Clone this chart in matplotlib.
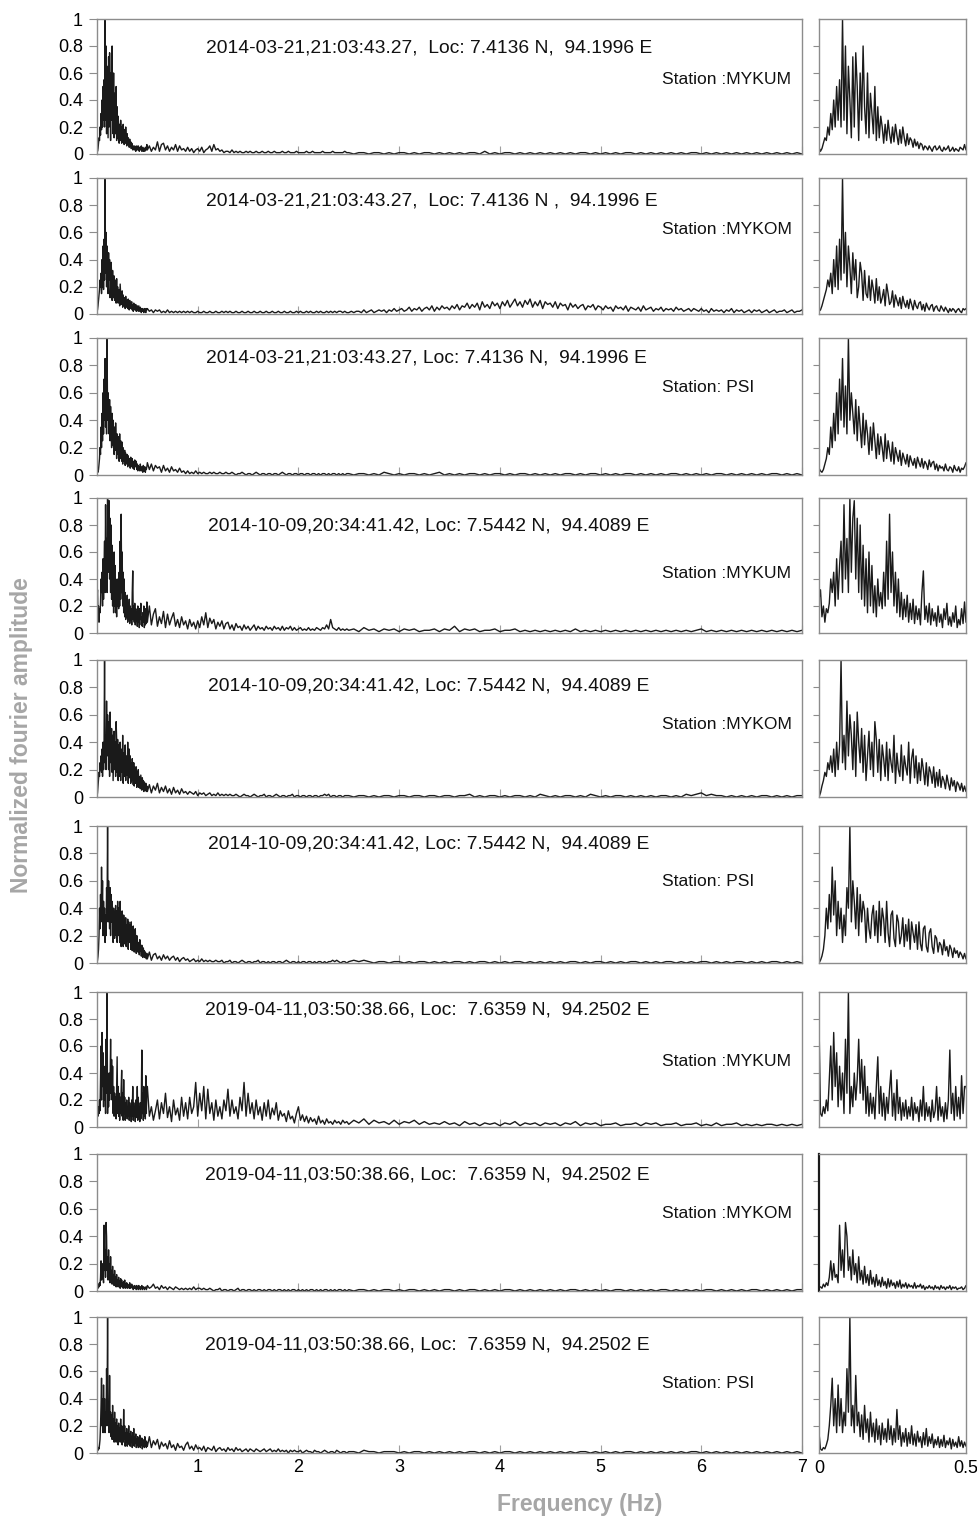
import numpy as np
import matplotlib.pyplot as plt

plt.rcParams['font.family'] = ['Liberation Sans', 'DejaVu Sans']

# normalized fourier amplitude in percent
# *_low : 0 - 0.495 Hz, one value every 0.005 Hz
# *_mid : 0.5 - 2.48 Hz, one value every 0.02 Hz
# *_tail: 2.5 - 7.0 Hz, evenly spaced

# event 2014-03-21
e1_mykum_low = [5, 2, 4, 8, 12, 10, 20, 14, 30, 18, 40, 20, 50, 25, 55, 20, 100, 25, 80, 15,
                65, 40, 12, 72, 20, 75, 50, 10, 60, 25, 80, 35, 15, 60, 12, 45, 30, 15, 50, 10,
                35, 12, 28, 20, 8, 22, 10, 25, 15, 8, 20, 9, 22, 14, 7, 18, 8, 20, 12, 6,
                15, 7, 12, 10, 5, 11, 6, 9, 4, 8, 7, 3, 6, 5, 3, 6, 4, 2, 5, 6,
                3, 4, 6, 3, 2, 5, 3, 4, 6, 2, 3, 5, 2, 4, 3, 2, 5, 4, 3, 7]
e1_mykum_mid = [3, 6, 2, 5, 3, 9, 2, 7, 8, 3, 6, 2, 5, 3, 7, 2, 6, 3, 4, 2,
                5, 2, 4, 1, 3, 4, 2, 5, 1, 3, 4, 6, 2, 7, 3, 4, 2, 3, 1, 2,
                2, 1, 3, 1, 2, 1, 2, 1, 1, 2, 1, 2, 1, 1, 2, 1, 1, 2, 1, 1,
                2, 1, 1, 2, 1, 1, 1, 2, 1, 1, 2, 1, 1, 1, 2, 1, 1, 1, 1, 2,
                1, 1, 2, 1, 1, 1, 1, 2, 1, 1, 1, 1, 2, 1, 1, 1, 1, 1, 2, 1]
e1_mykum_tail = [1, 0, 1, 1, 0, 1, 1, 0, 1, 0, 1, 1, 0, 1, 0, 1, 1, 0, 1, 0,
                 1, 0, 1, 0, 1, 1, 0, 2, 0, 1, 0, 1, 1, 0, 1, 0, 1, 0, 1, 0,
                 1, 0, 1, 0, 1, 0, 1, 1, 0, 1, 0, 1, 0, 1, 0, 1, 1, 0, 1, 0,
                 1, 0, 1, 0, 1, 0, 1, 0, 1, 1, 0, 1, 0, 1, 0, 1, 0, 1, 0, 1,
                 0, 1, 0, 1, 0, 1, 0, 1, 0, 1, 0]

e1_mykom_low = [2, 3, 6, 10, 14, 18, 25, 20, 30, 15, 40, 20, 50, 18, 55, 25, 100, 30, 60, 20,
                50, 35, 15, 45, 25, 40, 12, 20, 38, 30, 10, 32, 15, 12, 28, 10, 25, 18, 8, 26,
                10, 20, 8, 12, 18, 6, 22, 15, 7, 9, 17, 5, 14, 10, 6, 12, 4, 13, 8, 5,
                10, 4, 11, 7, 3, 10, 6, 4, 8, 9, 3, 7, 2, 8, 5, 3, 6, 7, 2, 5,
                6, 3, 2, 6, 4, 2, 5, 3, 1, 4, 2, 4, 3, 1, 3, 4, 2, 1, 4, 3]
e1_mykom_mid = [4, 2, 3, 1, 3, 2, 3, 1, 2, 1, 3, 1, 2, 1, 2, 1, 2, 1, 2, 1,
                2, 1, 2, 1, 1, 2, 1, 1, 2, 1, 1, 2, 1, 1, 2, 1, 1, 2, 1, 2,
                1, 2, 1, 1, 2, 1, 1, 2, 1, 1, 2, 1, 1, 2, 1, 1, 2, 1, 1, 2,
                1, 1, 2, 1, 1, 2, 1, 1, 2, 1, 1, 2, 1, 1, 2, 1, 2, 1, 1, 2,
                1, 2, 1, 1, 2, 1, 2, 1, 1, 2, 1, 2, 1, 2, 1, 2, 2, 1, 2, 1]
e1_mykom_tail = [1, 2, 1, 2, 2, 1, 3, 1, 2, 3, 1, 2, 3, 2, 3, 1, 3, 2, 4, 2,
                 3, 4, 2, 3, 5, 2, 4, 3, 5, 2, 4, 5, 3, 6, 2, 5, 3, 6, 4, 5,
                 3, 6, 4, 7, 3, 6, 5, 8, 4, 7, 5, 8, 3, 9, 5, 7, 4, 9, 6, 8,
                 4, 9, 6, 10, 5, 8, 11, 6, 9, 5, 10, 7, 11, 5, 9, 6, 10, 4, 9, 7,
                 8, 5, 9, 4, 8, 6, 7, 3, 8, 5, 7, 4, 6, 7, 3, 6, 5, 7, 3, 6,
                 5, 3, 6, 4, 5, 2, 6, 4, 5, 3, 6, 2, 5, 4, 3, 5, 2, 6, 3, 4,
                 5, 2, 4, 3, 5, 2, 4, 3, 4, 2, 5, 3, 4, 2, 3, 4, 2, 4, 3, 2,
                 4, 2, 3, 1, 4, 2, 3, 2, 3, 1, 3, 2, 4, 1, 3, 2, 3, 1, 2, 3,
                 1, 3, 2, 3, 1, 2, 3, 1, 2, 3, 1, 2, 2, 3, 1, 2, 3, 1, 2, 2, 3]

e1_psi_low = [5, 3, 2, 4, 8, 12, 20, 15, 35, 20, 45, 25, 60, 30, 70, 40, 85, 35, 65, 30,
              100, 40, 60, 45, 30, 55, 25, 50, 35, 20, 45, 22, 40, 30, 15, 35, 18, 38, 25, 12,
              30, 15, 28, 20, 10, 30, 12, 25, 18, 10, 24, 8, 20, 15, 10, 18, 7, 16, 12, 8,
              15, 6, 14, 10, 7, 12, 5, 13, 9, 6, 12, 5, 10, 8, 4, 11, 6, 9, 10, 4,
              8, 3, 7, 5, 6, 3, 8, 4, 3, 6, 5, 2, 7, 4, 3, 6, 2, 5, 4, 6]
e1_psi_mid = [9, 4, 8, 3, 7, 5, 6, 2, 7, 3, 5, 2, 6, 3, 4, 2, 5, 2, 3, 1,
              3, 1, 2, 1, 3, 1, 2, 1, 2, 1, 1, 2, 1, 2, 1, 1, 2, 1, 1, 2,
              1, 1, 2, 1, 0, 1, 1, 2, 1, 0, 1, 1, 0, 1, 2, 1, 0, 1, 1, 0,
              1, 1, 0, 1, 1, 0, 1, 2, 1, 0, 1, 1, 0, 1, 1, 0, 1, 1, 0, 1,
              1, 0, 1, 1, 0, 1, 0, 1, 1, 0, 1, 0, 1, 1, 0, 1, 0, 1, 0, 1]
e1_psi_tail = [1, 0, 1, 1, 0, 1, 0, 2, 1, 0, 1, 0, 1, 1, 0, 1, 0, 1, 2, 0,
               1, 0, 1, 0, 1, 1, 0, 1, 0, 1, 1, 0, 1, 0, 1, 1, 0, 1, 0, 1,
               0, 1, 0, 1, 1, 0, 1, 0, 1, 1, 0, 1, 0, 1, 0, 1, 1, 0, 1, 0,
               1, 0, 1, 0, 1, 1, 0, 1, 0, 1, 0, 1, 0, 1, 1, 0, 1, 0, 1, 0,
               1, 0, 1, 0, 1, 1, 0, 1, 0, 1, 0]

# event 2014-10-09
e2_mykum_low = [25, 32, 12, 20, 8, 18, 15, 22, 40, 30, 45, 20, 55, 25, 50, 68, 30, 95, 40, 70,
                30, 100, 45, 85, 98, 40, 85, 30, 80, 25, 65, 20, 55, 15, 60, 20, 50, 15, 35, 12,
                40, 20, 30, 18, 45, 20, 68, 25, 88, 30, 60, 20, 45, 15, 40, 12, 30, 10, 25, 12,
                28, 8, 22, 10, 25, 7, 20, 10, 18, 6, 30, 46, 10, 20, 8, 22, 6, 18, 9, 15,
                5, 20, 8, 14, 4, 18, 10, 22, 6, 12, 5, 15, 8, 20, 4, 10, 6, 18, 7, 23]
e2_mykum_mid = [8, 20, 6, 14, 18, 5, 12, 7, 16, 4, 14, 6, 11, 15, 5, 10, 4, 12, 6, 9,
                3, 10, 5, 8, 3, 9, 4, 12, 6, 15, 4, 11, 7, 10, 3, 8, 5, 9, 3, 7,
                8, 3, 6, 2, 7, 4, 5, 2, 6, 3, 5, 2, 4, 6, 2, 5, 3, 4, 2, 5,
                3, 4, 2, 5, 3, 4, 2, 5, 2, 4, 3, 5, 2, 4, 2, 3, 4, 2, 3, 2,
                4, 2, 3, 2, 4, 3, 2, 4, 3, 6, 3, 10, 4, 3, 2, 4, 2, 3, 2, 3]
e2_mykum_tail = [2, 3, 1, 4, 2, 3, 1, 3, 2, 3, 1, 3, 2, 3, 1, 2, 2, 3, 1, 3,
                 2, 5, 1, 3, 2, 3, 1, 2, 2, 3, 1, 2, 2, 3, 1, 2, 1, 2, 1, 2,
                 1, 2, 1, 2, 1, 3, 1, 2, 1, 2, 1, 2, 1, 2, 1, 2, 1, 2, 1, 2,
                 1, 2, 1, 2, 1, 2, 1, 2, 1, 2, 3, 1, 2, 1, 2, 1, 2, 1, 2, 1,
                 2, 1, 2, 1, 2, 1, 2, 1, 2, 1, 2]

e2_mykom_low = [0, 3, 8, 12, 18, 15, 25, 20, 30, 18, 35, 15, 40, 20, 38, 100, 25, 45, 20, 70,
                30, 60, 45, 20, 55, 15, 62, 40, 25, 50, 18, 45, 12, 30, 48, 20, 40, 15, 55, 42,
                18, 42, 12, 38, 28, 15, 40, 12, 35, 25, 18, 45, 10, 32, 20, 15, 38, 12, 30, 22,
                16, 40, 10, 28, 35, 14, 30, 10, 25, 12, 28, 20, 9, 25, 8, 22, 18, 10, 22, 7,
                18, 8, 20, 7, 15, 12, 6, 16, 10, 5, 14, 8, 12, 4, 11, 9, 5, 10, 4, 8]
e2_mykom_mid = [4, 9, 3, 8, 5, 10, 3, 7, 4, 8, 3, 6, 2, 7, 3, 5, 2, 6, 3, 4,
                2, 4, 3, 2, 4, 1, 3, 2, 3, 1, 2, 3, 1, 2, 1, 3, 1, 2, 1, 2,
                1, 2, 1, 1, 2, 1, 0, 1, 2, 1, 1, 0, 1, 2, 1, 0, 1, 1, 2, 0,
                1, 1, 0, 1, 2, 1, 0, 1, 1, 0, 1, 1, 2, 0, 1, 1, 0, 1, 1, 0,
                1, 1, 0, 1, 1, 0, 1, 1, 2, 1, 2, 0, 1, 1, 0, 1, 1, 0, 1, 1]
e2_mykom_tail = [1, 0, 1, 1, 0, 1, 0, 1, 1, 0, 1, 1, 0, 1, 1, 0, 1, 1, 0, 1,
                 1, 0, 1, 1, 2, 0, 1, 0, 1, 1, 0, 1, 0, 1, 1, 0, 1, 0, 2, 1,
                 0, 1, 0, 1, 1, 0, 1, 0, 2, 1, 0, 1, 0, 1, 1, 0, 1, 0, 1, 0,
                 1, 0, 1, 1, 0, 1, 0, 2, 1, 2, 3, 1, 2, 1, 1, 0, 1, 0, 1, 0,
                 1, 0, 1, 1, 0, 1, 0, 1, 0, 1, 1]

e2_psi_low = [0, 2, 5, 10, 20, 40, 25, 50, 30, 70, 35, 60, 20, 45, 25, 40, 15, 35, 20, 55,
              40, 100, 30, 60, 45, 25, 55, 20, 50, 30, 45, 38, 15, 40, 25, 18, 35, 42, 20, 38,
              15, 45, 20, 40, 32, 15, 45, 22, 12, 35, 38, 18, 12, 35, 30, 14, 20, 33, 12, 28,
              16, 32, 10, 30, 22, 15, 28, 10, 30, 14, 9, 25, 27, 12, 8, 22, 25, 12, 7, 20,
              18, 8, 15, 13, 6, 17, 9, 12, 5, 13, 10, 4, 11, 7, 9, 4, 8, 6, 3, 7]
e2_psi_mid = [3, 8, 2, 6, 7, 3, 5, 2, 6, 3, 5, 2, 4, 5, 2, 4, 1, 3, 4, 2,
              3, 1, 2, 3, 1, 2, 1, 3, 1, 2, 1, 2, 1, 1, 2, 1, 1, 2, 0, 1,
              1, 2, 0, 1, 1, 0, 1, 2, 1, 0, 1, 1, 0, 1, 1, 2, 0, 1, 1, 0,
              1, 0, 1, 1, 0, 1, 1, 0, 1, 2, 1, 0, 1, 1, 0, 1, 0, 1, 1, 0,
              1, 1, 0, 1, 0, 1, 1, 0, 1, 0, 1, 1, 2, 1, 2, 1, 0, 1, 1, 0]
e2_psi_tail = [1, 2, 1, 2, 1, 0, 1, 1, 0, 1, 1, 0, 1, 0, 1, 1, 0, 1, 0, 1,
               0, 1, 1, 0, 1, 0, 1, 1, 0, 1, 0, 1, 0, 1, 1, 0, 1, 0, 1, 0,
               1, 0, 1, 0, 1, 1, 0, 1, 0, 1, 1, 0, 1, 0, 1, 0, 1, 1, 0, 1,
               0, 1, 0, 1, 1, 0, 1, 0, 1, 0, 1, 1, 0, 1, 0, 1, 0, 1, 1, 0,
               1, 0, 1, 0, 1, 1, 0, 1, 0, 1, 0]

# event 2019-04-11
e3_mykum_low = [78, 10, 8, 15, 10, 20, 12, 35, 60, 20, 70, 30, 55, 15, 45, 20, 40, 10, 65, 25,
                100, 10, 30, 15, 40, 20, 35, 65, 25, 50, 20, 45, 10, 30, 8, 25, 10, 22, 6, 30,
                52, 10, 30, 8, 25, 5, 22, 10, 28, 42, 8, 25, 5, 35, 10, 22, 5, 18, 8, 20,
                6, 15, 8, 22, 5, 18, 10, 15, 4, 20, 8, 30, 5, 18, 8, 15, 4, 20, 7, 12,
                30, 5, 22, 8, 15, 4, 18, 6, 20, 57, 10, 25, 5, 30, 8, 22, 6, 38, 10, 30]
e3_mykum_mid = [30, 8, 15, 5, 12, 20, 6, 18, 10, 25, 7, 15, 4, 20, 9, 14, 5, 22, 8, 18,
                6, 22, 10, 15, 33, 8, 25, 12, 30, 6, 28, 10, 18, 5, 20, 8, 15, 6, 20, 12,
                28, 8, 20, 10, 15, 6, 22, 12, 33, 8, 25, 10, 18, 6, 20, 9, 15, 5, 18, 8,
                20, 6, 14, 9, 18, 5, 12, 8, 10, 4, 12, 6, 8, 3, 10, 15, 5, 9, 4, 8,
                3, 7, 4, 6, 2, 8, 3, 5, 2, 6, 3, 4, 2, 5, 3, 4, 2, 5, 3, 4]
e3_mykum_tail = [2, 5, 3, 6, 2, 5, 3, 4, 2, 5, 2, 4, 3, 5, 2, 4, 2, 3, 2, 4,
                 2, 3, 1, 4, 2, 3, 1, 3, 2, 3, 1, 3, 2, 4, 1, 3, 2, 3, 1, 3,
                 2, 3, 1, 3, 2, 4, 1, 3, 2, 3, 1, 2, 2, 3, 1, 2, 2, 3, 1, 3,
                 2, 3, 1, 2, 2, 3, 1, 2, 2, 3, 1, 2, 1, 3, 1, 2, 2, 3, 1, 2,
                 1, 2, 1, 2, 2, 1, 2, 1, 2, 1, 2]

e3_mykom_low = [3, 3, 2, 5, 3, 6, 4, 10, 22, 8, 20, 10, 12, 6, 48, 15, 30, 10, 50, 40,
                15, 25, 8, 30, 12, 20, 6, 25, 8, 15, 5, 18, 6, 12, 4, 15, 5, 10, 3, 12,
                4, 8, 3, 10, 4, 7, 2, 9, 3, 8, 4, 6, 2, 7, 3, 8, 2, 5, 3, 6,
                2, 5, 3, 4, 2, 6, 2, 4, 3, 5, 2, 4, 1, 3, 2, 4, 2, 3, 1, 4,
                2, 3, 1, 4, 2, 3, 1, 3, 2, 4, 1, 3, 2, 3, 1, 2, 2, 3, 1, 2]
e3_mykom_mid = [4, 2, 3, 5, 2, 3, 1, 4, 2, 3, 1, 3, 2, 1, 3, 2, 1, 2, 1, 2,
                1, 2, 1, 3, 1, 2, 2, 1, 2, 1, 1, 2, 1, 0, 1, 1, 2, 0, 1, 1,
                0, 1, 1, 0, 1, 2, 0, 1, 1, 0, 1, 1, 0, 1, 0, 1, 1, 0, 1, 0,
                1, 1, 0, 1, 0, 1, 1, 0, 1, 0, 1, 0, 1, 1, 0, 1, 0, 1, 0, 1,
                0, 1, 1, 0, 1, 0, 1, 0, 1, 1, 0, 1, 0, 1, 0, 1, 1, 0, 1, 0]
e3_mykom_tail = [1, 0, 1, 1, 0, 1, 0, 1, 1, 0, 1, 0, 1, 1, 0, 1, 0, 1, 0, 1,
                 1, 0, 1, 0, 1, 1, 0, 1, 0, 1, 0, 1, 1, 0, 1, 0, 1, 0, 1, 0,
                 1, 0, 1, 0, 1, 1, 0, 1, 0, 1, 0, 1, 0, 1, 1, 0, 1, 0, 1, 0,
                 1, 0, 1, 1, 0, 1, 0, 1, 0, 1, 0, 1, 1, 0, 1, 0, 1, 0, 1, 0,
                 1, 1, 0, 1, 0, 1, 0, 1, 0, 1, 1]

e3_psi_low = [15, 3, 2, 4, 3, 6, 10, 20, 35, 55, 20, 40, 15, 50, 20, 40, 15, 30, 20, 62,
              30, 100, 20, 35, 15, 57, 20, 30, 12, 28, 10, 35, 15, 25, 8, 30, 12, 22, 8, 25,
              10, 20, 6, 22, 10, 18, 8, 25, 10, 20, 6, 18, 8, 32, 10, 20, 5, 15, 8, 18,
              5, 15, 7, 20, 6, 14, 5, 16, 8, 12, 4, 15, 6, 18, 5, 12, 7, 14, 4, 10,
              6, 12, 4, 10, 5, 13, 4, 9, 6, 11, 3, 10, 5, 8, 4, 12, 5, 9, 4, 8]
e3_psi_mid = [5, 12, 4, 9, 6, 10, 3, 8, 5, 7, 3, 9, 4, 6, 2, 7, 4, 5, 2, 6,
              8, 3, 5, 2, 6, 3, 4, 2, 5, 1, 4, 3, 2, 5, 1, 3, 4, 2, 3, 1,
              4, 2, 3, 1, 4, 2, 3, 1, 2, 3, 1, 3, 2, 1, 3, 2, 1, 2, 3, 1,
              2, 3, 1, 2, 1, 3, 1, 2, 1, 2, 0, 2, 1, 2, 1, 1, 2, 0, 1, 2,
              1, 1, 0, 2, 1, 1, 0, 1, 2, 1, 0, 1, 1, 0, 2, 1, 0, 1, 1, 0]
e3_psi_tail = [1, 1, 0, 2, 1, 1, 0, 1, 1, 1, 0, 1, 0, 1, 1, 0, 1, 0, 1, 0,
               1, 0, 1, 0, 1, 1, 0, 1, 0, 1, 0, 1, 1, 0, 1, 0, 1, 0, 1, 0,
               1, 0, 1, 0, 1, 0, 1, 1, 0, 1, 0, 1, 0, 1, 0, 1, 1, 0, 1, 0,
               1, 0, 1, 0, 1, 0, 1, 0, 1, 1, 0, 1, 0, 1, 0, 1, 0, 1, 0, 1,
               0, 1, 0, 1, 0, 1, 0, 1, 0, 1, 0]

titles = ["2014-03-21,21:03:43.27,  Loc: 7.4136 N,  94.1996 E",
          "2014-03-21,21:03:43.27,  Loc: 7.4136 N ,  94.1996 E",
          "2014-03-21,21:03:43.27, Loc: 7.4136 N,  94.1996 E",
          "2014-10-09,20:34:41.42, Loc: 7.5442 N,  94.4089 E",
          "2014-10-09,20:34:41.42, Loc: 7.5442 N,  94.4089 E",
          "2014-10-09,20:34:41.42, Loc: 7.5442 N,  94.4089 E",
          "2019-04-11,03:50:38.66, Loc:  7.6359 N,  94.2502 E",
          "2019-04-11,03:50:38.66, Loc:  7.6359 N,  94.2502 E",
          "2019-04-11,03:50:38.66, Loc:  7.6359 N,  94.2502 E"]
stations = ["Station :MYKUM", "Station :MYKOM", "Station: PSI"] * 3

spectra = [(e1_mykum_low, e1_mykum_mid, e1_mykum_tail),
           (e1_mykom_low, e1_mykom_mid, e1_mykom_tail),
           (e1_psi_low, e1_psi_mid, e1_psi_tail),
           (e2_mykum_low, e2_mykum_mid, e2_mykum_tail),
           (e2_mykom_low, e2_mykom_mid, e2_mykom_tail),
           (e2_psi_low, e2_psi_mid, e2_psi_tail),
           (e3_mykum_low, e3_mykum_mid, e3_mykum_tail),
           (e3_mykom_low, e3_mykom_mid, e3_mykom_tail),
           (e3_psi_low, e3_psi_mid, e3_psi_tail)]

# layout in pixels
W, H = 977, 1522
tops = [19, 178, 338, 498, 660, 826, 992, 1154, 1317]
bots = [154, 314, 475, 633, 797, 963, 1127, 1291, 1453]
title_x = [206, 206, 206, 208, 208, 208, 205, 205, 205]
title_y = [48, 201, 358, 526, 686, 844, 1010, 1175, 1345]
stat_y = [80, 229, 387, 573, 724, 881, 1062, 1213, 1383]

line_c = '#1a1a1a'
spine_c = '#8c8c8c'


def box(l, t, r, b):
    return [l / W, 1 - b / H, (r - l) / W, (b - t) / H]


fig = plt.figure(figsize=(W / 100, H / 100), dpi=100)

for k in range(9):
    low, mid, tail = [np.array(p) / 100 for p in spectra[k]]
    f = np.concatenate([np.arange(len(low)) * 0.005,
                        0.5 + np.arange(len(mid)) * 0.02,
                        np.linspace(2.5, 7.0, len(tail))])
    amp = np.concatenate([low, mid, tail])
    last = (k == 8)

    # full spectrum
    ax = fig.add_axes(box(97, tops[k], 802, bots[k]))
    ax.plot(f, amp, color=line_c, lw=1.0)
    ax.set_xlim(0, 7)
    ax.set_ylim(0, 1)
    ax.set_xticks(range(1, 8))
    ax.set_xticklabels([str(i) for i in range(1, 8)])
    ax.set_yticks([0, 0.2, 0.4, 0.6, 0.8, 1])
    ax.set_yticklabels(['0', '0.2', '0.4', '0.6', '0.8', '1'])
    ax.tick_params(axis='x', direction='in', length=6, color='#a0a0a0', labelsize=13,
                   labelbottom=last, pad=4)
    ax.tick_params(axis='y', direction='out', length=6, color=spine_c, labelsize=13, pad=4)
    for s in ax.spines.values():
        s.set_color(spine_c)
        s.set_linewidth(1.0)

    # zoom 0 - 0.5 Hz
    az = fig.add_axes(box(819, tops[k], 966, bots[k]))
    az.plot(f, amp, color=line_c, lw=1.0)
    az.set_xlim(0, 0.5)
    az.set_ylim(0, 1)
    az.set_xticks([0, 0.5])
    az.set_xticklabels(['0', '0.5'])
    az.set_yticks([0.2, 0.4, 0.6, 0.8])
    az.set_yticklabels([])
    az.tick_params(axis='x', length=0, labelsize=13, labelbottom=last, pad=5)
    az.tick_params(axis='y', direction='out', length=4, color=spine_c)
    for s in az.spines.values():
        s.set_color(spine_c)
        s.set_linewidth(1.0)
    if k == 7:
        az.spines['left'].set_color(line_c)
        az.spines['left'].set_linewidth(1.6)

    fig.text(title_x[k] / W, 1 - title_y[k] / H, titles[k], fontsize=13.9,
             ha='left', va='center', color='#111111')
    fig.text(662 / W, 1 - stat_y[k] / H, stations[k], fontsize=12.6,
             ha='left', va='center', color='#111111')

fig.text(22 / W, 1 - 735 / H, 'Normalized fourier amplitude', rotation=90,
         fontsize=16.5, fontweight='bold', color='#a6a6a6', ha='center', va='center')
fig.text(580 / W, 1 - 1505 / H, 'Frequency (Hz)', fontsize=16.5,
         fontweight='bold', color='#a6a6a6', ha='center', va='center')

fig.savefig('out.png', dpi=100)
